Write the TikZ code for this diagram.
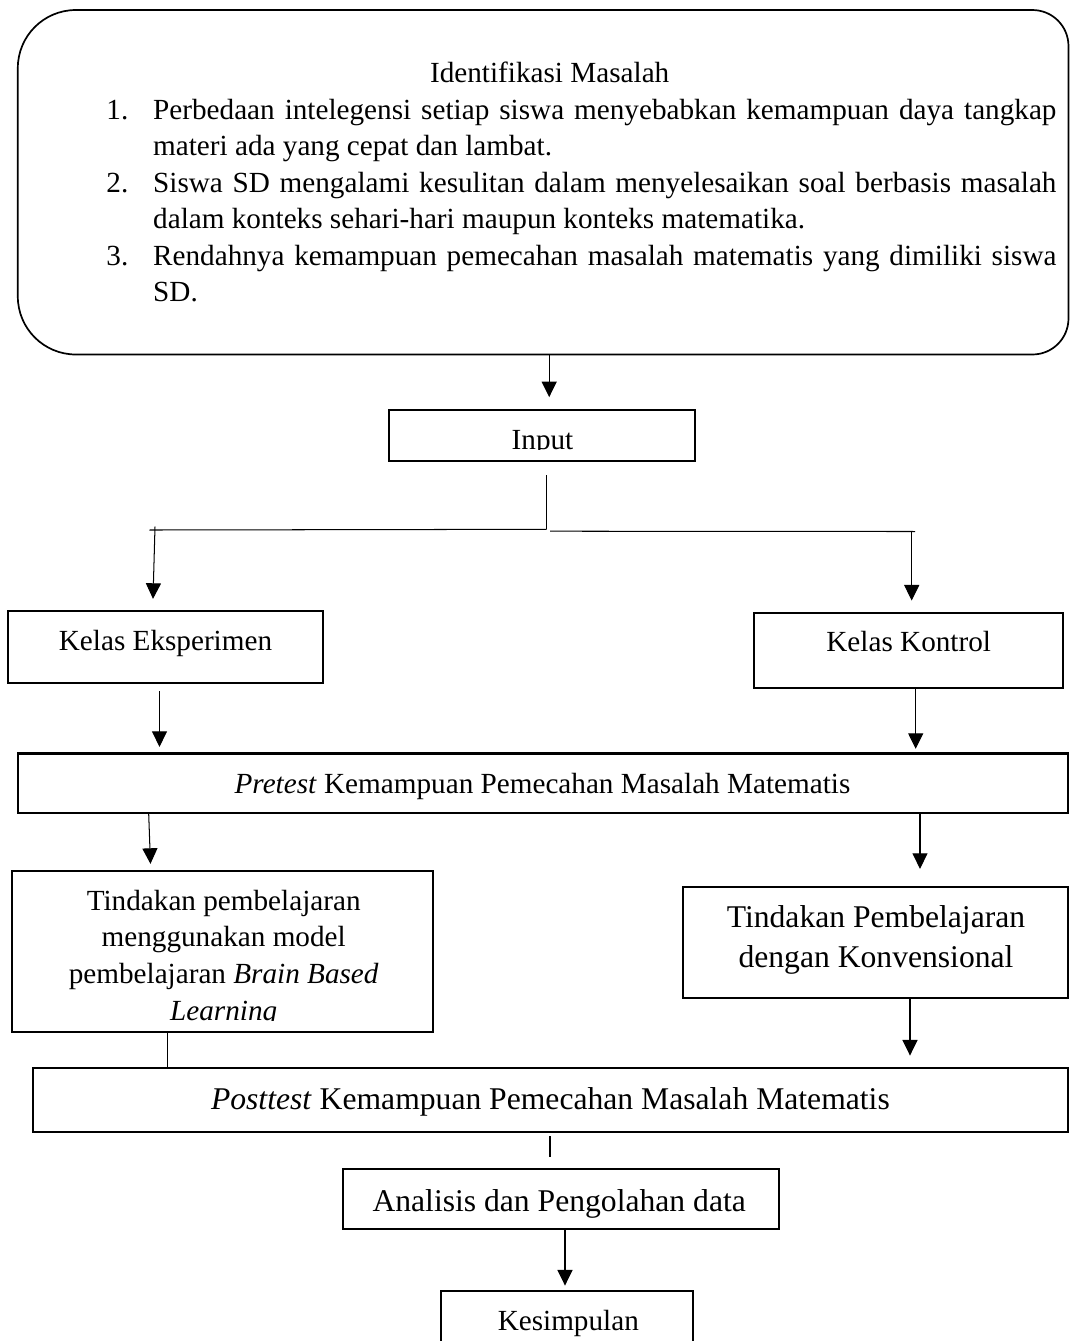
\documentclass[tikz,border=0pt]{standalone}
\usepackage{fontspec}
\setmainfont{Liberation Serif}
\usetikzlibrary{arrows.meta}
\newlength\pxu
\setlength\pxu{0.411pt}
\begin{document}
\begin{tikzpicture}[x=0.411pt,y=-0.411pt,
  rline/.style={line width=0.7pt},
  boxnode/.style={draw, line width=0.95pt, inner sep=0pt},
  txt/.style={inner sep=0pt, anchor=base, font=\fontsize{12pt}{14pt}\selectfont},
  txtl/.style={txt, anchor=base west},
  txtb/.style={txt, font=\fontsize{13pt}{15pt}\selectfont},
  conn/.style={line width=0.42pt},
  arr/.style={conn, -{Triangle[length=6.4pt,width=6.2pt]}}]
\useasboundingbox (0,0) rectangle (1070,1341);
\clip (0,0) rectangle (1070,1341);
\fill[white] (0,0) rectangle (1070,1341);

% ---------- boxes ----------
\node[inner sep=0pt, minimum width=1049.7*\pxu, minimum height=343.5*\pxu] (ident) at (543.15,182.25) {};
\draw[rline] (ident.north) [rounded corners=58*\pxu] -| (ident.west) |- (ident.south)
  [rounded corners=36*\pxu] -| (ident.east) |- (ident.north);
\node[boxnode, minimum width=305.7*\pxu, minimum height=50.7*\pxu] (input) at (542.15,435.35) {};
\node[boxnode, minimum width=315*\pxu, minimum height=72*\pxu] (eksp) at (165.8,646.7) {};
\node[boxnode, minimum width=309.3*\pxu, minimum height=75*\pxu] (kontrol) at (908.65,650.8) {};
\node[boxnode, minimum width=1049.4*\pxu, minimum height=59.2*\pxu] (pretest) at (543,783.1) {};
\node[boxnode, minimum width=421*\pxu, minimum height=160.7*\pxu] (tleft) at (222.8,951.35) {};
\node[boxnode, minimum width=384.4*\pxu, minimum height=111.6*\pxu] (tright) at (875.5,942.5) {};
\node[boxnode, minimum width=1034.4*\pxu, minimum height=63.4*\pxu] (posttest) at (550.5,1100) {};
\node[boxnode, minimum width=435.7*\pxu, minimum height=60*\pxu] (analisis) at (561.15,1199.3) {};
\node[boxnode, minimum width=251.7*\pxu, minimum height=89.3*\pxu] (kesimpulan) at (566.85,1335.35) {};

% ---------- texts ----------
\node[txt] (ttitle) at (549.7,82.7) {Identifikasi Masalah};
\node[txtl] (n1) at (106,119.5) {1.};
\node[txtl] (t1a) at (152.7,119.5) {\makebox[903.3\pxu][s]{Perbedaan intelegensi setiap siswa menyebabkan kemampuan daya tangkap}};
\node[txtl] (t1b) at (152.7,155.5) {materi ada yang cepat dan lambat.};
\node[txtl] (n2) at (106,192) {2.};
\node[txtl] (t2a) at (152.7,192) {\makebox[903.3\pxu][s]{Siswa SD mengalami kesulitan dalam menyelesaikan soal berbasis masalah}};
\node[txtl] (t2b) at (152.7,228.3) {dalam konteks sehari-hari maupun konteks matematika.};
\node[txtl] (n3) at (106,265) {3.};
\node[txtl] (t3a) at (152.7,265) {\makebox[903.3\pxu][s]{Rendahnya kemampuan pemecahan masalah matematis yang dimiliki siswa}};
\node[txtl] (t3b) at (152.7,301.7) {SD.};

\begin{scope}
\clip (389.3,410) rectangle (695,449.6);
\node[txt] (tinput) at (542.5,449) {Input};
\end{scope}
\node[txt] (teksp) at (165.5,650) {Kelas Eksperimen};
\node[txt] (tkontrol) at (908.7,651.7) {Kelas Kontrol};
\node[txt] (tpre) at (542.5,793) {\textit{Pretest} Kemampuan Pemecahan Masalah Matematis};
\node[txt] (tl1) at (223.7,910) {Tindakan pembelajaran};
\node[txt] (tl2) at (223.7,946.7) {menggunakan model};
\node[txt] (tl3) at (223.7,983.3) {pembelajaran \textit{Brain Based}};
\begin{scope}
\clip (12.3,871) rectangle (433.3,1020.6);
\node[txt] (tl4) at (223.7,1020) {\textit{Learning}};
\end{scope}
\node[txtb] (tr1) at (876,927.3) {Tindakan Pembelajaran};
\node[txtb] (tr2) at (876,967.7) {dengan Konvensional};
\node[txtb] (tpost) at (550.4,1109.3) {\textit{Posttest} Kemampuan Pemecahan Masalah Matematis};
\node[txtb] (tanal) at (559.2,1211.7) {Analisis dan Pengolahan data};
\node[txt] (tkes) at (568.3,1330) {Kesimpulan};

% ---------- connectors ----------
\coordinate (jl) at (546.7,529.3);
\coordinate (bl) at (149.3,530);
\coordinate (jr) at (550,531.2);
\coordinate (br) at (915,531.5);
\coordinate (al) at (155,526.7);
\coordinate (ar) at (911.7,531.5);

\draw[arr, shorten >=11.7*\pxu] (549.2,0 |- ident.south) -- (549.2,0 |- input.north);
\draw[conn, shorten <=13.6*\pxu] (546.7,0 |- input.south) -- (jl);
\draw[conn] (bl) -- (jl);
\draw[conn] (jr) -- (br);
\draw[arr, shorten >=10.7*\pxu] (al) -- (152.7,0 |- eksp.north);
\draw[arr, shorten >=11.6*\pxu] (ar) -- (911.7,0 |- kontrol.north);
\draw[arr, shorten <=7.3*\pxu, shorten >=5.5*\pxu] (159.5,0 |- eksp.south) -- (159.5,0 |- pretest.north);
\draw[arr, shorten >=3.5*\pxu] (915.7,0 |- kontrol.south) -- (915.7,0 |- pretest.north);
\draw[arr, shorten >=6*\pxu] (148.7,0 |- pretest.south) -- (150.7,0 |- tleft.north);
\draw[arr, shorten >=16.7*\pxu] (920,0 |- pretest.south) -- (920,0 |- tright.north);
\draw[conn] (167.3,0 |- tleft.south) -- (167.3,0 |- posttest.north);
\draw[arr, shorten >=11.6*\pxu] (910,0 |- tright.south) -- (910,0 |- posttest.north);
\draw[conn, shorten <=3.3*\pxu, shorten >=11*\pxu] (550,0 |- posttest.south) -- (550,0 |- analisis.north);
\draw[arr, shorten >=4*\pxu] (565,0 |- analisis.south) -- (565,0 |- kesimpulan.north);
\end{tikzpicture}
\end{document}
